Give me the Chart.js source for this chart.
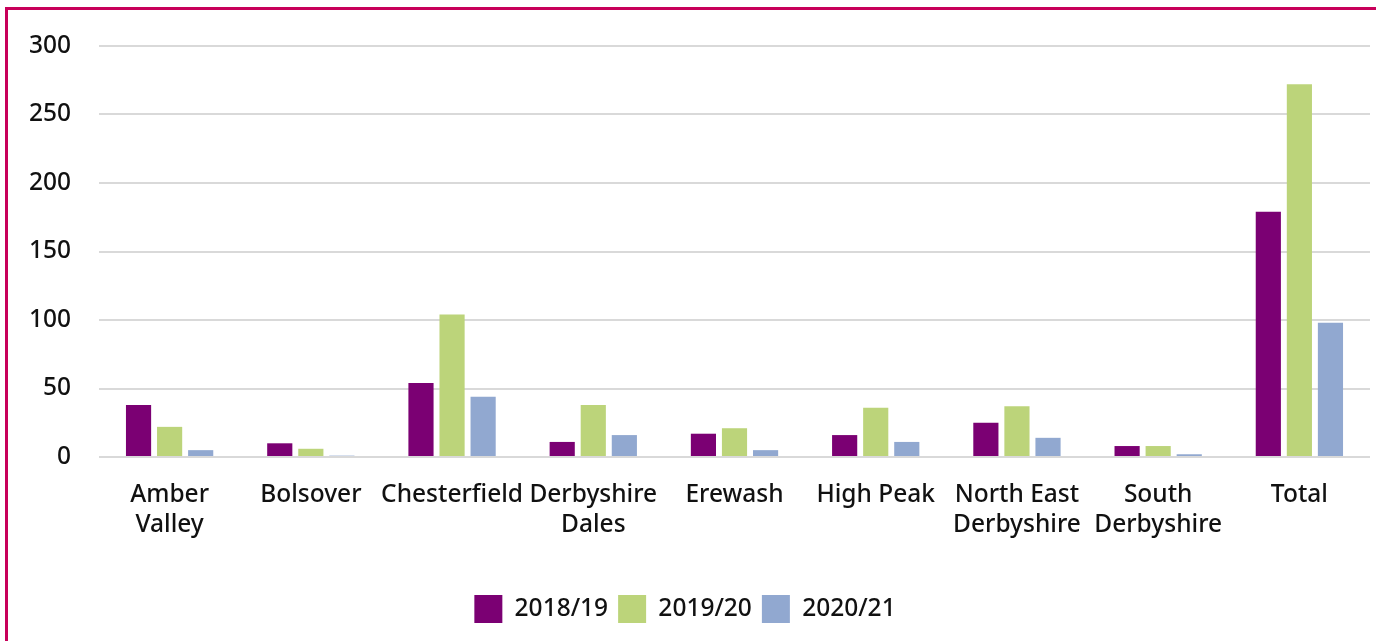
<!DOCTYPE html>
<html>
<head>
<meta charset="utf-8">
<script src="https://cdn.jsdelivr.net/npm/chart.js@4"></script>
<style>
  html, body { margin: 0; padding: 0; background: #fff; overflow: hidden; }
  .frame { position: absolute; left: 5px; top: 7px; width: 1400px; height: 700px;
           border-left: 3px solid #c8005a; border-top: 3px solid #c8005a; }
  .wrap { position: absolute; left: 0; top: 0; width: 1376px; height: 641px; }
</style>
</head>
<body>
<div class="frame"></div>
<div class="wrap"><canvas id="barChart"></canvas></div>
<script>
  const districts = [
    ['Amber', 'Valley'], 'Bolsover', 'Chesterfield', ['Derbyshire', 'Dales'], 'Erewash',
    'High Peak', ['North East', 'Derbyshire'], ['South', 'Derbyshire'], 'Total'
  ];
  const y2018 = [38, 10, 54, 11, 17, 16, 25, 8, 179];
  const y2019 = [22, 6, 104, 38, 21, 36, 37, 8, 272];
  const y2020 = [5, 1, 44, 16, 5, 11, 14, 2, 98];
  const yTicks = [0, 50, 100, 150, 200, 250, 300];

  const font = { family: "'Noto Sans', sans-serif", size: 24.5, weight: 500 };

  const ctx = document.getElementById('barChart').getContext('2d');
  new Chart(ctx, {
    type: 'bar',
    data: {
      labels: districts,
      datasets: [
        { label: '2018/19', data: y2018, backgroundColor: '#7b0073' },
        { label: '2019/20', data: y2019, backgroundColor: '#bcd47a' },
        { label: '2020/21', data: y2020, backgroundColor: '#91a8d0' }
      ].map(d => Object.assign(d, {
        borderWidth: 0, categoryPercentage: 0.66, barPercentage: 0.81
      }))
    },
    options: {
      responsive: true,
      maintainAspectRatio: false,
      animation: false,
      layout: { padding: { top: 46, right: 6, left: 0, bottom: 8 } },
      plugins: {
        tooltip: { enabled: false },
        legend: {
          position: 'bottom',
          labels: { color: '#111', font: font, boxWidth: 28, boxHeight: 28, padding: 10 }
        }
      },
      scales: {
        x: {
          grid: { display: false, drawTicks: false },
          border: { display: false },
          ticks: { color: '#111', font: Object.assign({ lineHeight: 1.22 }, font), padding: 23, maxRotation: 0, autoSkip: false },
          afterFit: s => { s.height = 128; }
        },
        y: {
          min: 0, max: 300,
          afterBuildTicks: s => { s.ticks = yTicks.map(v => ({ value: v })); },
          grid: { color: '#d9d9d9', lineWidth: 2, drawTicks: false },
          border: { display: false },
          ticks: { color: '#111', font: font, padding: 28 },
          afterFit: s => { s.width = 99; }
        }
      }
    }
  });
</script>
</body>
</html>
